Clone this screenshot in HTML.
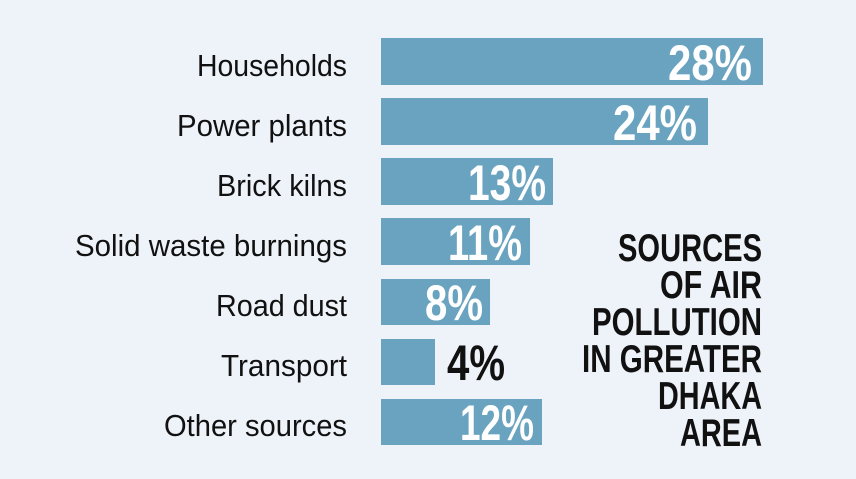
<!DOCTYPE html>
<html><head><style>
html,body{margin:0;padding:0;background:#eef2f9;}
svg{display:block}
.l{font-family:"Liberation Sans Narrow","Liberation Sans",sans-serif;font-size:31px;fill:#111;}
.v{font-family:"Liberation Sans Narrow","Liberation Sans",sans-serif;font-weight:bold;font-size:50px;fill:#fff;}
.t{font-family:"Liberation Sans Narrow","Liberation Sans",sans-serif;font-weight:bold;font-size:39px;fill:#111;}
</style></head><body>
<svg width="856" height="479" viewBox="0 0 856 479">
<rect width="856" height="479" fill="#eef2f9"/>
<g fill="#6aa3bf">
<rect x="381" y="38" width="382" height="47"/>
<rect x="381" y="98" width="327" height="47"/>
<rect x="381" y="158" width="172" height="47"/>
<rect x="381" y="218" width="149" height="47"/>
<rect x="381" y="279" width="109" height="46"/>
<rect x="381" y="339" width="54" height="46"/>
<rect x="381" y="399" width="161" height="46"/>
</g>
<g class="l" text-anchor="end">
<text x="347" y="76" textLength="150" lengthAdjust="spacingAndGlyphs">Households</text>
<text x="347" y="136" textLength="170" lengthAdjust="spacingAndGlyphs">Power plants</text>
<text x="347" y="196" textLength="130" lengthAdjust="spacingAndGlyphs">Brick kilns</text>
<text x="347" y="256" textLength="272" lengthAdjust="spacingAndGlyphs">Solid waste burnings</text>
<text x="347" y="316" textLength="131" lengthAdjust="spacingAndGlyphs">Road dust</text>
<text x="347" y="376" textLength="126" lengthAdjust="spacingAndGlyphs">Transport</text>
<text x="347" y="436" textLength="183" lengthAdjust="spacingAndGlyphs">Other sources</text>
</g>
<g class="v" text-anchor="end">
<text x="752" y="80" textLength="84" lengthAdjust="spacingAndGlyphs">28%</text>
<text x="697" y="140" textLength="84" lengthAdjust="spacingAndGlyphs">24%</text>
<text x="546" y="200" textLength="78" lengthAdjust="spacingAndGlyphs">13%</text>
<text x="522" y="260" textLength="74" lengthAdjust="spacingAndGlyphs">11%</text>
<text x="483" y="320" textLength="58" lengthAdjust="spacingAndGlyphs">8%</text>
<text x="505" y="380" textLength="58" lengthAdjust="spacingAndGlyphs" style="fill:#111">4%</text>
<text x="534" y="440" textLength="74" lengthAdjust="spacingAndGlyphs">12%</text>
</g>
<g class="t" text-anchor="end">
<text x="762" y="261" textLength="144" lengthAdjust="spacingAndGlyphs">SOURCES</text>
<text x="762" y="298" textLength="102" lengthAdjust="spacingAndGlyphs">OF AIR</text>
<text x="762" y="335" textLength="170" lengthAdjust="spacingAndGlyphs">POLLUTION</text>
<text x="762" y="372" textLength="180" lengthAdjust="spacingAndGlyphs">IN GREATER</text>
<text x="762" y="409" textLength="104" lengthAdjust="spacingAndGlyphs">DHAKA</text>
<text x="762" y="446" textLength="82" lengthAdjust="spacingAndGlyphs">AREA</text>
</g>
</svg>
</body></html>
